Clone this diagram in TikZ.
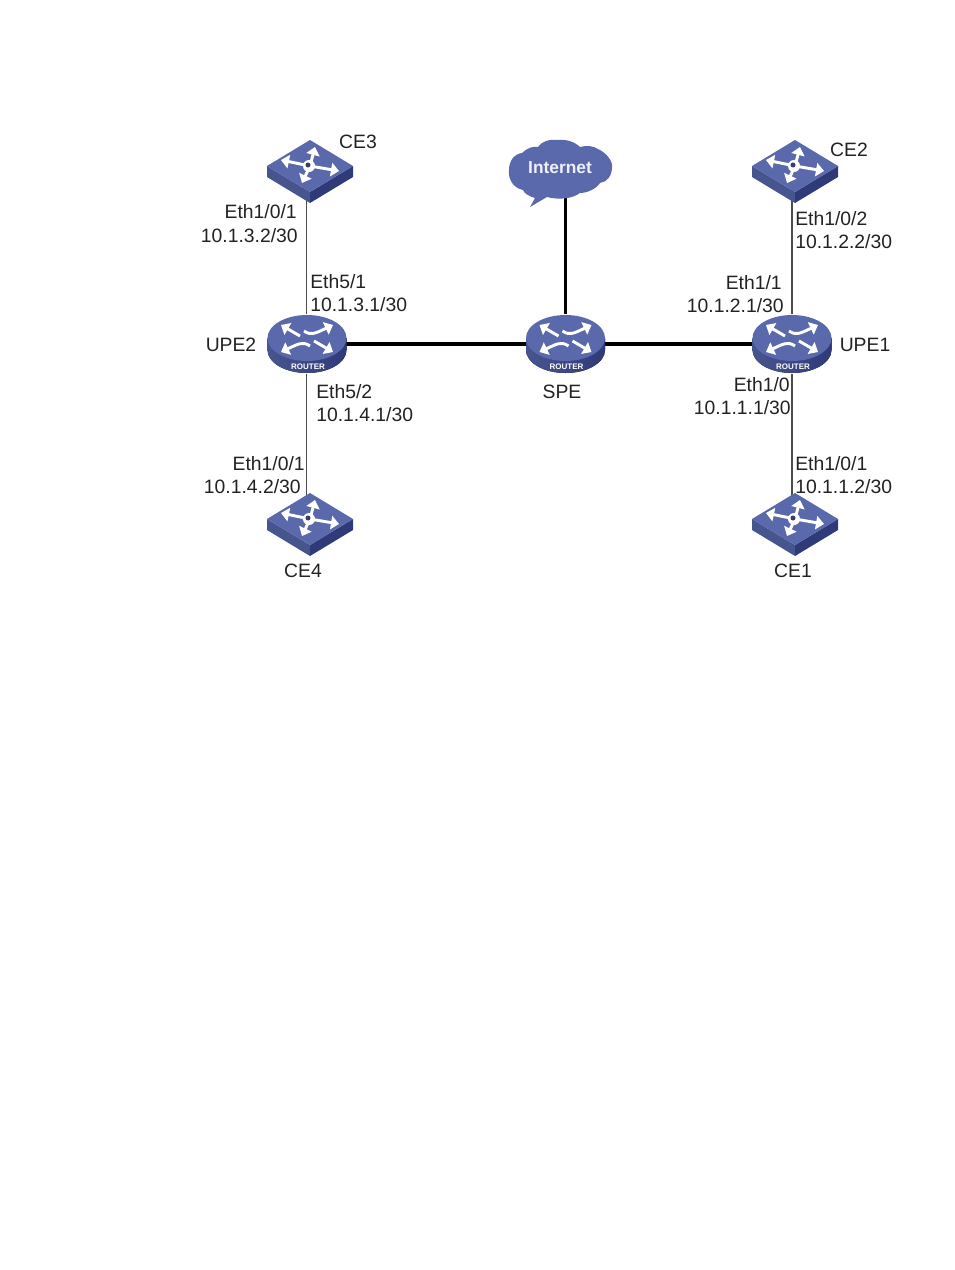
\documentclass[tikz,border=0pt]{standalone}
\usepackage{fontspec}
\setmainfont{Liberation Sans}
\usetikzlibrary{arrows.meta}

\definecolor{icontop}{HTML}{5A69AB}
\definecolor{iconleft}{HTML}{47558F}
\definecolor{iconright}{HTML}{2F3B78}
\definecolor{labelgray}{HTML}{222222}

\tikzset{
	devlabel/.style={font=\fontsize{14.5}{16}\selectfont, text=labelgray, inner sep=0pt},
	thinlink/.style={draw=black!70, line width=1.1pt},
	thicklink/.style={draw=black, line width=2.8pt},
	routerbox/.style={inner sep=0pt, minimum width=59pt, minimum height=44pt},
	switchbox/.style={inner sep=0pt, minimum width=64pt, minimum height=47pt},
	cloudbox/.style={inner sep=0pt, minimum width=78pt, minimum height=50pt},
	iconarrow/.style={draw=white, line width=2.2pt, -{Triangle[length=6pt, width=10pt]}},
	pics/routericon/.style={code={
		\fill[left color=iconleft, right color=iconright] (-39.5,0) -- (-39.5,12)
			arc[start angle=180, end angle=0, x radius=39.5, y radius=23] -- (39.5,0) -- cycle;
		\fill[icontop] (0,0) ellipse[x radius=39.5, y radius=23];
		% Arrows
		\draw[iconarrow] (-7,-2) -- (-26,-13);
		\draw[iconarrow] (-3,-7) .. controls (4,-2) and (9,-5) .. (26,-13);
		\draw[iconarrow] (7,3) -- (26,14);
		\draw[iconarrow] (3,8) .. controls (-4,3) and (-9,6) .. (-26,14);
		\node[font=\bfseries\fontsize{6}{6}\selectfont, text=white, inner sep=0pt] (-label) at (1,29) {ROUTER};
	}},
	pics/switchicon/.style={code={
		\fill[iconleft] (-43,0) -- (0,26) -- (0,37) -- (-43,11) -- cycle;
		\fill[iconright] (43,0) -- (0,26) -- (0,37) -- (43,11) -- cycle;
		\fill[icontop] (0,-26) -- (43,0) -- (0,26) -- (-43,0) -- cycle;
		% Arrows
		\draw[iconarrow] (0,0) -- (5,-19);
		\draw[iconarrow] (0,0) -- (-29,-6);
		\draw[iconarrow] (0,0) -- (29,5);
		\draw[iconarrow] (0,0) -- (-8,17);
		\fill[white] (-1,0) circle[radius=6];
		\fill[icontop!60!black] (-2,-1) circle[radius=2.5];
	}},
	pics/cloudicon/.style={code={
		\fill[icontop] (-30,39) -- (-25,30)
			.. controls (-32,28) and (-36,25) .. (-37,22)
			.. controls (-47,20) and (-52,11) .. (-51,2)
			.. controls (-51,-7) and (-46,-14) .. (-38,-15)
			.. controls (-33,-20) and (-27,-22) .. (-22,-21)
			.. controls (-18,-27) and (-10,-29) .. (-2,-28)
			.. controls (6,-29) and (15,-26) .. (20,-21)
			.. controls (27,-23) and (33,-22) .. (38,-19)
			.. controls (47,-15) and (53,-6) .. (52,-1)
			.. controls (52,8) and (47,14) .. (40,15)
			.. controls (37,20) and (28,25) .. (20,25)
			.. controls (12,31) and (-2,32) .. (-13,29)
			-- cycle;
		\node[font=\bfseries\fontsize{13}{15}\selectfont, text=white!90!icontop, inner sep=0pt] (-label) at (0,0) {Internet};
	}},
}

\begin{document}
\begin{tikzpicture}[x=0.75pt, y=-0.75pt]
	\useasboundingbox (0,0) rectangle (954,1270);
	
	% Devices
	\node[routerbox] (upe2) at (306.5,344) {};
	\node[routerbox] (spe) at (565.5,344) {};
	\node[routerbox] (upe1) at (792,344) {};
	\node[switchbox] (ce3) at (310,171) {};
	\node[switchbox] (ce2) at (795,171) {};
	\node[switchbox] (ce4) at (310,524) {};
	\node[switchbox] (ce1) at (795,524) {};
	\node[cloudbox] (internet) at (560,168) {};
	
	% Links
	\draw[thinlink] (upe2) -- (upe2 |- ce3);
	\draw[thinlink] (upe2) -- (upe2 |- ce4);
	\draw[thinlink] (upe1) -- (upe1 |- ce2);
	\draw[thinlink] (upe1) -- (upe1 |- ce1);
	\draw[thicklink] (upe2) -- (spe);
	\draw[thicklink] (spe) -- (upe1);
	\draw[thicklink] (spe) -- (spe |- internet);
	
	% Icons
	\pic (upe2icon) at (307,338) {routericon};
	\pic (speicon) at (565.5,338) {routericon};
	\pic (upe1icon) at (792,338) {routericon};
	\pic (ce3icon) at (310,166) {switchicon};
	\pic (ce2icon) at (795,166) {switchicon};
	\pic (ce4icon) at (310,519) {switchicon};
	\pic (ce1icon) at (795,519) {switchicon};
	\pic (interneticon) at (560,168) {cloudicon};
	
	% Device names
	\node[devlabel] (ce3name) at (358,142) {CE3};
	\node[devlabel] (ce2name) at (849,150) {CE2};
	\node[devlabel] (ce4name) at (303,571) {CE4};
	\node[devlabel] (ce1name) at (793,571) {CE1};
	\node[devlabel] (upe2name) at (231,345) {UPE2};
	\node[devlabel] (upe1name) at (865,345) {UPE1};
	\node[devlabel] (spename) at (562,392) {SPE};
	
	% Port labels
	\node[devlabel, anchor=east] (p1) at (297,212) {Eth1/0/1};
	\node[devlabel, anchor=east] (a1) at (298,236) {10.1.3.2/30};
	\node[devlabel, anchor=west] (p2) at (310,282) {Eth5/1};
	\node[devlabel, anchor=west] (a2) at (310,305) {10.1.3.1/30};
	\node[devlabel, anchor=west] (p3) at (316,392) {Eth5/2};
	\node[devlabel, anchor=west] (a3) at (316,415) {10.1.4.1/30};
	\node[devlabel, anchor=east] (p4) at (305,464) {Eth1/0/1};
	\node[devlabel, anchor=east] (a4) at (301,487) {10.1.4.2/30};
	\node[devlabel, anchor=west] (p5) at (795,219) {Eth1/0/2};
	\node[devlabel, anchor=west] (a5) at (795,242) {10.1.2.2/30};
	\node[devlabel, anchor=east] (p6) at (782,283) {Eth1/1};
	\node[devlabel, anchor=east] (a6) at (784,306) {10.1.2.1/30};
	\node[devlabel, anchor=east] (p7) at (790,385) {Eth1/0};
	\node[devlabel, anchor=east] (a7) at (791,408) {10.1.1.1/30};
	\node[devlabel, anchor=west] (p8) at (795,464) {Eth1/0/1};
	\node[devlabel, anchor=west] (a8) at (795,487) {10.1.1.2/30};
\end{tikzpicture}
\end{document}
